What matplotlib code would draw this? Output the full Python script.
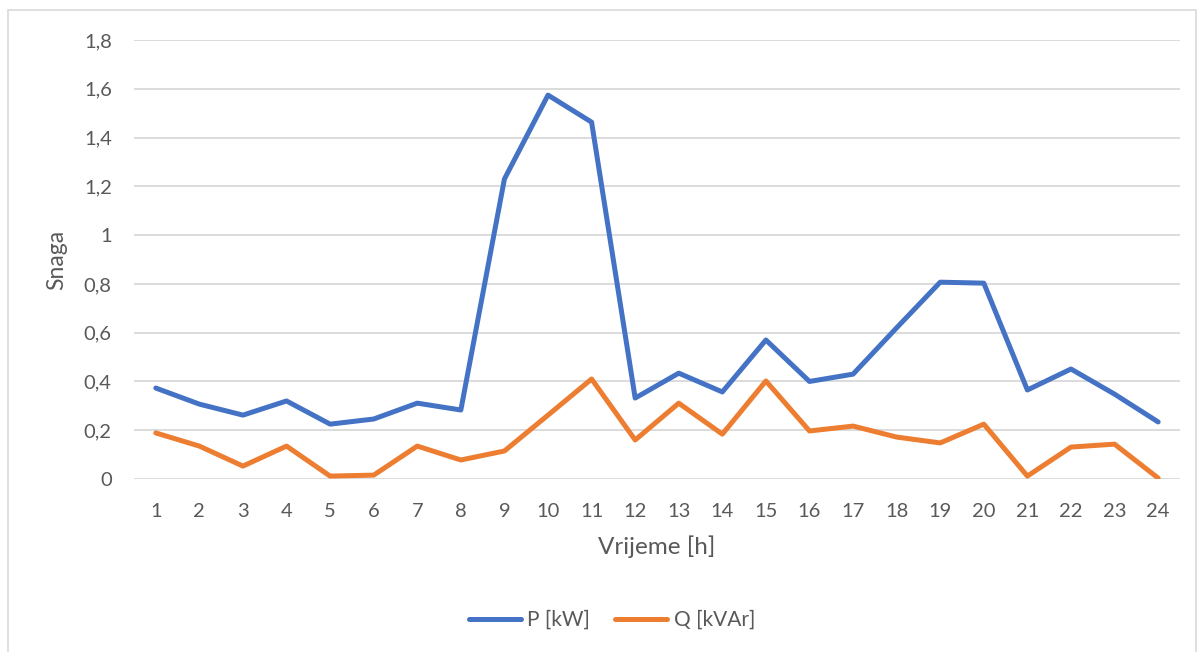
import matplotlib.pyplot as plt
from matplotlib.patches import Rectangle
from matplotlib.ticker import FuncFormatter, MultipleLocator

# hourly data
hours = list(range(1, 25))
p_kw = [0.373, 0.307, 0.262, 0.32, 0.225, 0.246, 0.311, 0.283, 1.23, 1.574, 1.463, 0.332,
        0.434, 0.357, 0.57, 0.40, 0.43, 0.62, 0.807, 0.803, 0.365, 0.451, 0.348, 0.234]
q_kvar = [0.189, 0.135, 0.053, 0.135, 0.012, 0.016, 0.135, 0.078, 0.115, 0.262, 0.41, 0.16,
          0.311, 0.184, 0.402, 0.197, 0.217, 0.172, 0.148, 0.225, 0.012, 0.131, 0.143, 0.004]
labels = ['P [kW]', 'Q [kVAr]']

plt.rcParams['font.family'] = ['Lato', 'DejaVu Sans']
txt = '#595959'

fig = plt.figure(figsize=(12.04, 6.52), dpi=100)
ax = fig.add_axes([0.1113, 0.2653, 0.8687, 0.6734])

# outer chart border
fig.patches.append(Rectangle((8 / 1204, -0.01), 1188 / 1204, 1 - 10 / 652 + 0.01,
                             transform=fig.transFigure, fill=False,
                             edgecolor='#D9D9D9', linewidth=1.2))

ax.plot(hours, p_kw, color='#4472C4', linewidth=3.6, label=labels[0],
        solid_joinstyle='round', solid_capstyle='round')
ax.plot(hours, q_kvar, color='#ED7D31', linewidth=3.6, label=labels[1],
        solid_joinstyle='round', solid_capstyle='round')

ax.set_xlim(0.5, 24.5)
ax.set_ylim(0, 1.8)
ax.yaxis.set_major_locator(MultipleLocator(0.2))
ax.yaxis.set_major_formatter(FuncFormatter(
    lambda v, _: '0' if abs(v) < 1e-9 else ('1' if abs(v - 1) < 1e-9 else f'{v:.1f}'.replace('.', ','))))
ax.set_xticks(hours)
ax.grid(axis='y', color='#D9D9D9', linewidth=1.3)
ax.set_axisbelow(True)
for s in ax.spines.values():
    s.set_visible(False)
ax.tick_params(length=0, labelsize=14.5, colors=txt)
ax.tick_params(axis='x', pad=17)
ax.tick_params(axis='y', pad=16)

ax.set_xlabel('Vrijeme [h]', fontsize=17.5, color=txt, labelpad=11)
ax.set_ylabel('Snaga', fontsize=16.5, color=txt, labelpad=12)

fig.legend(loc='center', bbox_to_anchor=(612 / 1204, 1 - 620 / 652), ncol=2, frameon=False,
           fontsize=15, labelcolor=txt, handlelength=2.5, columnspacing=1.2, handletextpad=0.3)

fig.savefig('out.png', dpi=100)
